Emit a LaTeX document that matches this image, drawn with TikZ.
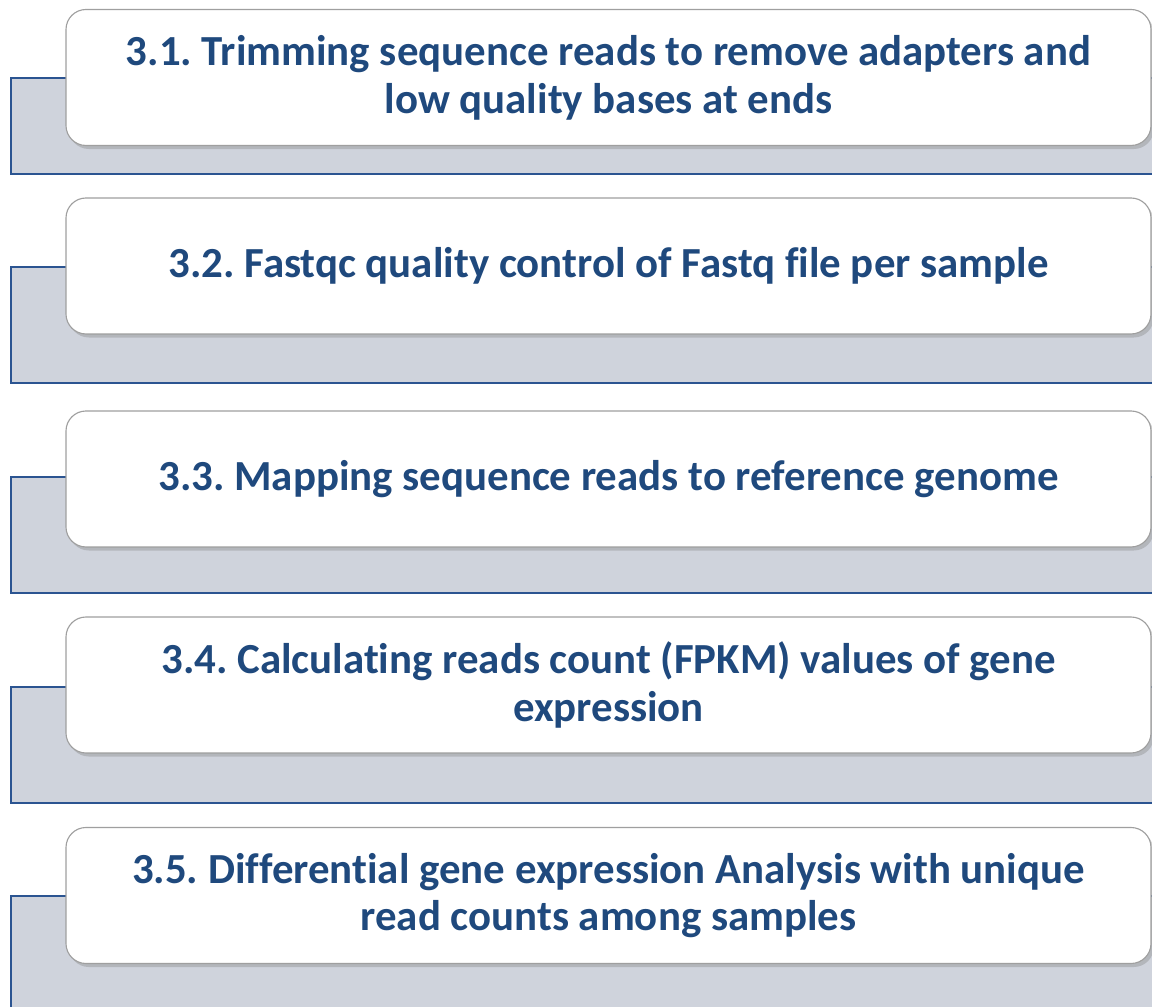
\documentclass[tikz,border=0pt]{standalone}
\usepackage{fontspec}
\setmainfont{Carlito}[Ligatures=NoCommon]
\usepackage{xcolor}
\usepackage{tikz}
\usetikzlibrary{shadows}

\definecolor{steptext}{RGB}{31,73,125}
\definecolor{bandfill}{RGB}{207,211,220}
\definecolor{bandline}{RGB}{43,84,145}

\frenchspacing

\begin{document}
\begin{tikzpicture}[
  band/.style={fill=bandfill},
  bandedge/.style={draw=bandline, line width=1.4pt},
  stepbox/.style={draw=gray!75, line width=0.8pt, fill=white, rounded corners=0.5cm,
    minimum width=27.125cm, minimum height=3.4cm, align=center, text=steptext,
    font=\fontsize{30.5}{34}\selectfont\bfseries,
    drop shadow={shadow xshift=2pt, shadow yshift=-2.5pt, opacity=0.35}}
]

\useasboundingbox (0,0) rectangle (28.8,25.175);

% Gray bands behind the steps
\fill [band] (0.275,20.825) rectangle (28.9,23.225);
\fill [band] (0.275,15.6) rectangle (28.9,18.5);
\fill [band] (0.275,10.35) rectangle (28.9,13.25);
\fill [band] (0.275,5.1) rectangle (28.9,8.0);
\fill [band] (0.275,-0.2) rectangle (28.9,2.775);

% Blue edges of the bands (right side runs off the page)
\draw [bandedge] (28.9,23.225) -- (0.275,23.225) -- (0.275,20.825) -- (28.9,20.825);
\draw [bandedge] (28.9,18.5) -- (0.275,18.5) -- (0.275,15.6) -- (28.9,15.6);
\draw [bandedge] (28.9,13.25) -- (0.275,13.25) -- (0.275,10.35) -- (28.9,10.35);
\draw [bandedge] (28.9,8.0) -- (0.275,8.0) -- (0.275,5.1) -- (28.9,5.1);
\draw [bandedge] (28.9,2.775) -- (0.275,2.775) -- (0.275,-0.2);

% Step boxes
\node [stepbox] (trim) at (15.2125,23.2375) {3.1. Trimming sequence reads to remove adapters and\\low quality bases at ends};
\node [stepbox] (fastqc) at (15.2125,18.525) {3.2. Fastqc quality control of Fastq file per sample};
\node [stepbox] (mapping) at (15.2125,13.2) {3.3. Mapping sequence reads to reference genome};
\node [stepbox] (fpkm) at (15.2125,8.05) {3.4. Calculating reads count (FPKM) values of gene\\expression};
\node [stepbox] (diffexp) at (15.2125,2.7875) {3.5. Differential gene expression Analysis with unique\\read counts among samples};

\end{tikzpicture}
\end{document}
